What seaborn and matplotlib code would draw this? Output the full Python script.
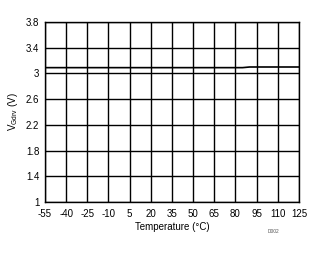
import matplotlib
matplotlib.use("Agg")
import matplotlib.pyplot as plt
import seaborn as sns
import pandas as pd
import numpy as np

temperature = [-55, -40, -25, -10, 5, 20, 35, 50, 65, 80, 85, 90, 95, 110, 125]
vgdrv = [3.09, 3.09, 3.09, 3.09, 3.09, 3.09, 3.09, 3.09, 3.09, 3.09, 3.09, 3.10, 3.10, 3.10, 3.10]
xticks = [-55, -40, -25, -10, 5, 20, 35, 50, 65, 80, 95, 110, 125]
yticks = [1, 1.4, 1.8, 2.2, 2.6, 3, 3.4, 3.8]

sns.set_theme(style="white")
plt.rcParams['font.family'] = ['Liberation Sans', 'DejaVu Sans']
plt.rcParams['mathtext.fontset'] = 'custom'
plt.rcParams['mathtext.rm'] = 'Liberation Sans'

df = pd.DataFrame({"Temperature": temperature, "V": vgdrv})

fig = plt.figure(figsize=(3.32, 2.54), dpi=100)
ax = fig.add_axes([0.1355, 0.2047, 0.7651, 0.7087])
sns.lineplot(data=df, x="Temperature", y="V", ax=ax, color="black", linewidth=1.2)

ax.set_xlim(-55, 125)
ax.set_ylim(1, 3.8)
ax.set_xticks(xticks)
ax.set_xticklabels([str(t) for t in xticks])
ax.set_yticks(yticks)
ax.set_yticklabels([f"{t:g}" for t in yticks])
ax.grid(True, color="black", linewidth=1)
for s in ax.spines.values():
    s.set_color("black")
    s.set_linewidth(1)
ax.tick_params(axis="both", labelsize=7, length=0, colors="black")
ax.tick_params(axis="x", pad=5)
ax.tick_params(axis="y", pad=4)
ax.set_xlabel("Temperature (°C)", fontsize=7, labelpad=2, color="black")
ax.set_ylabel(r"$\mathrm{V_{Gdrv}}$ (V)", fontsize=7, labelpad=4, color="black")
fig.text(0.807, 0.083, "D002", fontsize=3.5, color="#555555")

fig.savefig("out.png", dpi=100)
